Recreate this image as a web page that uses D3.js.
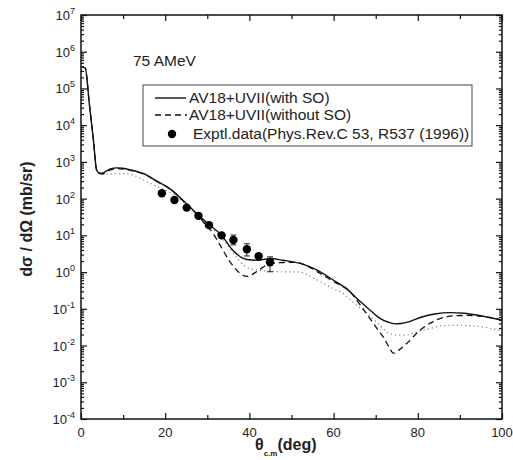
<!DOCTYPE html>
<html>
<head>
<meta charset="utf-8">
<script src="https://cdn.jsdelivr.net/npm/d3@7/dist/d3.min.js"></script>
<style>
  body { margin: 0; background: #fff; }
  text { font-family: "Liberation Sans", Arial, sans-serif; fill: #222; }
</style>
</head>
<body>
<div id="chart-area"></div>
<script>
// curves: angle (deg) and cross section (mb/sr)
let withSoDeg = [0.3, 1.0, 2.0, 3.0, 3.7, 4.3, 5.0, 6.0, 7.0, 8.5, 10, 12, 15.6, 18, 21, 25, 28.3, 30.6, 33.4, 36, 39.4, 42, 45, 48, 50.4, 53, 56, 60, 63, 66, 68.6, 71, 73, 74.6, 76, 78, 81, 84, 87.6, 91, 94, 97, 100];
let withSoVal = [3.8e5, 3.6e5, 3.6e4, 3500, 600, 500, 490, 560, 640, 690, 670, 600, 440, 300, 190, 74, 32, 19, 10, 4.0, 2.2, 2.1, 2.35, 2.1, 1.9, 1.6, 1.15, 0.6, 0.36, 0.17, 0.093, 0.055, 0.043, 0.039, 0.040, 0.045, 0.06, 0.072, 0.079, 0.076, 0.068, 0.058, 0.049];

let noSoDeg = [0.3, 1.0, 2.0, 3.0, 3.7, 4.3, 5.0, 6.0, 7.0, 8.5, 10, 12, 15.6, 18, 21, 25, 28.3, 30, 31, 33, 35.4, 37.8, 39.4, 41.7, 44.1, 47.3, 51, 53, 56, 60, 63.9, 66.5, 68.6, 70.5, 71.8, 73.2, 74.2, 75.5, 77.4, 80.5, 84.5, 89.2, 92, 95.5, 100];
let noSoVal = [3.8e5, 3.6e5, 3.6e4, 3500, 600, 490, 470, 530, 610, 660, 640, 580, 430, 295, 185, 72, 30, 17, 13, 5.5, 1.9, 0.93, 0.76, 1.02, 1.55, 1.8, 1.85, 1.6, 1.05, 0.55, 0.29, 0.12, 0.055, 0.027, 0.017, 0.009, 0.0062, 0.0075, 0.0115, 0.026, 0.05, 0.065, 0.066, 0.062, 0.05];

let dotDeg = [0.3, 1.0, 2.0, 3.0, 3.7, 4.5, 7, 10, 12, 15.6, 18, 21, 25, 28, 31, 34, 36, 37.8, 40, 43, 48, 52, 56, 60, 62.3, 65, 67.9, 70.5, 73.4, 75.8, 77.4, 80, 82.9, 86, 89.2, 92, 95.5, 100];
let dotVal = [3.8e5, 3.6e5, 3.6e4, 3500, 600, 470, 470, 480, 450, 290, 215, 150, 70, 32, 16, 7, 3.5, 1.9, 1.25, 1.1, 1.02, 1.0, 0.62, 0.35, 0.26, 0.14, 0.076, 0.04, 0.021, 0.019, 0.0195, 0.024, 0.029, 0.035, 0.036, 0.035, 0.032, 0.025];

// measured points with error ranges
let exptDeg = [19.2, 22.2, 25.1, 27.9, 30.4, 33.4, 36.2, 39.4, 42.2, 44.9];
let exptVal = [140, 92, 57, 34, 19, 10, 7.5, 4.2, 2.7, 1.85];
let exptLow = [130, 85, 53, 31, 17.5, 9.2, 5.5, 2.75, 2.45, 1.02];
let exptHigh = [150, 99, 61, 37, 20.5, 10.8, 10.2, 5.9, 2.95, 2.6];

let xTicks = [0, 20, 40, 60, 80, 100];
let xMinor = [10, 30, 50, 70, 90];
let yExps = [-4, -3, -2, -1, 0, 1, 2, 3, 4, 5, 6, 7];

let W = 513, H = 460;
let pLeft = 81, pRight = 502, pTop = 15, pBottom = 419;

let svg = d3.select('#chart-area')
    .append('svg')
    .attr('width', W)
    .attr('height', H);

let x = d3.scaleLinear().domain([0, 100]).range([pLeft, pRight]);
let y = d3.scaleLog().domain([1e-4, 1e7]).range([pBottom, pTop]);

let yMajor = yExps.map(e => Math.pow(10, e));
let yMinor = [];
yExps.slice(0, -1).forEach(function(e) {
    for (let k = 2; k <= 9; k++) yMinor.push(k * Math.pow(10, e));
});

// axes, ticks pointing inward
function drawAxis(axis, tx, ty) {
    let g = svg.append('g')
        .attr('transform', 'translate(' + tx + ',' + ty + ')')
        .call(axis);
    g.selectAll('text').remove();
    g.select('.domain').remove();
    g.selectAll('line').attr('stroke', '#111').attr('stroke-width', 1.2);
    return g;
}
drawAxis(d3.axisLeft(y).tickValues(yMajor).tickSize(-6), pLeft, 0);
drawAxis(d3.axisLeft(y).tickValues(yMinor).tickSize(-3), pLeft, 0);
drawAxis(d3.axisRight(y).tickValues(yMajor).tickSize(-6), pRight, 0);
drawAxis(d3.axisRight(y).tickValues(yMinor).tickSize(-3), pRight, 0);
drawAxis(d3.axisBottom(x).tickValues(xTicks).tickSize(-6), 0, pBottom);
drawAxis(d3.axisBottom(x).tickValues(xMinor).tickSize(-4), 0, pBottom);
drawAxis(d3.axisTop(x).tickValues(xTicks).tickSize(-6), 0, pTop);
drawAxis(d3.axisTop(x).tickValues(xMinor).tickSize(-4), 0, pTop);

svg.append('rect')
    .attr('x', pLeft).attr('y', pTop)
    .attr('width', pRight - pLeft).attr('height', pBottom - pTop)
    .attr('fill', 'none').attr('stroke', '#111').attr('stroke-width', 1.5);

// tick labels
svg.selectAll('.xlab').data(xTicks).enter().append('text')
    .attr('class', 'xlab')
    .attr('x', d => x(d))
    .attr('y', pBottom + 18)
    .attr('text-anchor', 'middle')
    .attr('font-size', '13px')
    .text(d => d);

let ylab = svg.selectAll('.ylab').data(yExps).enter().append('text')
    .attr('class', 'ylab')
    .attr('x', pLeft - 6)
    .attr('y', d => y(Math.pow(10, d)) + 5)
    .attr('text-anchor', 'end')
    .attr('font-size', '13px');
ylab.append('tspan').text('10');
ylab.append('tspan').attr('dy', -6).attr('font-size', '9px').text(d => d < 0 ? '-' + (-d) : d);

// axis titles
svg.append('text')
    .attr('transform', 'translate(32,' + ((pTop + pBottom) / 2 + 2) + ') rotate(-90)')
    .attr('text-anchor', 'middle')
    .attr('font-size', '16px')
    .attr('font-weight', 'bold')
    .text('d\u03c3 / d\u03a9 (mb/sr)');

let xt = svg.append('text')
    .attr('x', 255).attr('y', 450)
    .attr('font-size', '16px').attr('font-weight', 'bold');
xt.append('tspan').text('\u03b8');
xt.append('tspan').attr('dy', 6).attr('font-size', '8px').text('c.m');
xt.append('tspan').attr('dy', -6).text('(deg)');

// curves
let line = d3.line()
    .x(d => x(d[0]))
    .y(d => y(d[1]))
    .curve(d3.curveMonotoneX);

svg.append('path')
    .attr('d', line(d3.zip(dotDeg, dotVal)))
    .attr('fill', 'none').attr('stroke', '#777')
    .attr('stroke-width', 1.1).attr('stroke-dasharray', '1.2,3');

svg.append('path')
    .attr('d', line(d3.zip(noSoDeg, noSoVal)))
    .attr('fill', 'none').attr('stroke', '#111')
    .attr('stroke-width', 1.3).attr('stroke-dasharray', '6,4');

svg.append('path')
    .attr('d', line(d3.zip(withSoDeg, withSoVal)))
    .attr('fill', 'none').attr('stroke', '#111')
    .attr('stroke-width', 1.4);

// data points
let pts = d3.range(exptDeg.length);
svg.selectAll('.err').data(pts).enter().append('path')
    .attr('class', 'err')
    .attr('d', function(i) {
        let cx = x(exptDeg[i]), y1 = y(exptHigh[i]), y2 = y(exptLow[i]);
        return 'M' + cx + ',' + y1 + 'V' + y2 +
            'M' + (cx - 3) + ',' + y1 + 'H' + (cx + 3) +
            'M' + (cx - 3) + ',' + y2 + 'H' + (cx + 3);
    })
    .attr('stroke', '#222').attr('stroke-width', 1).attr('fill', 'none');

svg.selectAll('.pt').data(pts).enter().append('circle')
    .attr('class', 'pt')
    .attr('cx', i => x(exptDeg[i]))
    .attr('cy', i => y(exptVal[i]))
    .attr('r', 4.2)
    .attr('fill', '#000');

// label and legend
svg.append('text')
    .attr('x', 133).attr('y', 66)
    .attr('font-size', '15.5px')
    .text('75 AMeV');

let lg = svg.append('g');
lg.append('rect')
    .attr('x', 143).attr('y', 85)
    .attr('width', 329).attr('height', 61)
    .attr('fill', '#fff').attr('stroke', '#444').attr('stroke-width', 1);
lg.append('line')
    .attr('x1', 155).attr('x2', 186).attr('y1', 98).attr('y2', 98)
    .attr('stroke', '#111').attr('stroke-width', 1.4);
lg.append('line')
    .attr('x1', 155).attr('x2', 187).attr('y1', 115).attr('y2', 115)
    .attr('stroke', '#111').attr('stroke-width', 1.3).attr('stroke-dasharray', '6,4');
lg.append('circle')
    .attr('cx', 172).attr('cy', 134).attr('r', 4.2).attr('fill', '#000');
lg.append('text').attr('x', 189).attr('y', 103).attr('font-size', '15.5px')
    .text('AV18+UVII(with SO)');
lg.append('text').attr('x', 189).attr('y', 120).attr('font-size', '15.5px')
    .text('AV18+UVII(without SO)');
lg.append('text').attr('x', 193).attr('y', 139).attr('font-size', '15.5px')
    .text('Exptl.data(Phys.Rev.C 53, R537 (1996))');
</script>
</body>
</html>
